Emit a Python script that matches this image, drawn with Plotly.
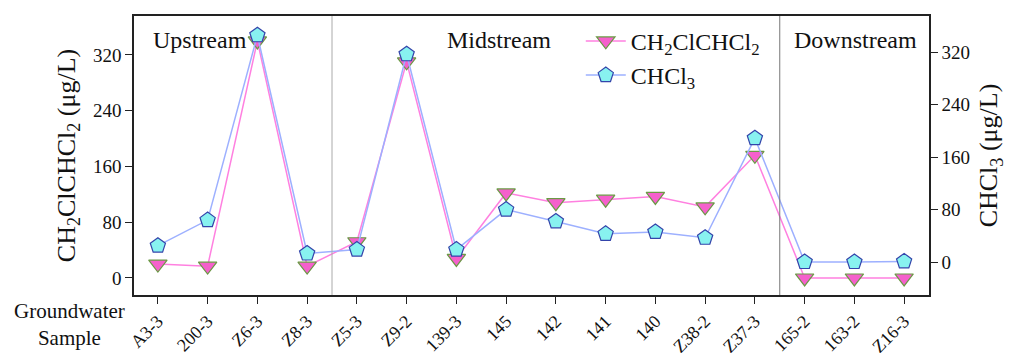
import plotly.graph_objects as go

samples = ["A3-3", "200-3", "Z6-3", "Z8-3", "Z5-3", "Z9-2", "139-3", "145", "142",
           "141", "140", "Z38-2", "Z37-3", "165-2", "163-2", "Z16-3"]
ch2clchcl2 = [20, 17, 340, 17, 52, 310, 28, 122, 108, 113, 117, 102, 176, 0, 0, 0]
chcl3 = [25, 64, 346, 13, 19, 317, 19, 80, 62, 43, 46, 37, 189, 0, 0, 1]
zones = ["Upstream", "Midstream", "Downstream"]
zone_bounds = [3.5, 12.5]
yticks = [0, 80, 160, 240, 320]

FONT = "Liberation Serif"

fig = go.Figure()
fig.add_trace(go.Scatter(
    x=samples, y=ch2clchcl2, name="CH<sub>2</sub>ClCHCl<sub>2</sub>",
    mode="lines+markers", yaxis="y",
    line=dict(color="#ff80e0", width=1.5),
    marker=dict(symbol="triangle-down", size=16, color="#f560cc",
                line=dict(color="#6b9a45", width=1.2))))
fig.add_trace(go.Scatter(
    x=samples, y=chcl3, name="CHCl<sub>3</sub>",
    mode="lines+markers", yaxis="y2",
    line=dict(color="#9db0ff", width=1.5),
    marker=dict(symbol="pentagon", size=16, color="#88f2f0",
                line=dict(color="#3344aa", width=1.2))))

for xb, col in zip(zone_bounds, ["#aaaaaa", "#777777"]):
    fig.add_shape(type="line", xref="x", yref="paper", x0=xb, x1=xb, y0=0, y1=1,
                  line=dict(color=col, width=1))

zone_x = [0.083, 0.459, 0.907]
for name, zx in zip(zones, zone_x):
    fig.add_annotation(text=name, x=zx, y=0.914, xref="paper", yref="paper",
                       xanchor="center", yanchor="middle",
                       showarrow=False, font=dict(size=24, color="#111"))

fig.add_annotation(text="Groundwater<br>Sample", x=-0.081, y=-0.105, xref="paper", yref="paper",
                   xanchor="center", yanchor="middle",
                   showarrow=False, align="center", font=dict(size=21, color="#111"))

fig.update_layout(
    width=1016, height=353,
    margin=dict(l=134, r=87, t=16, b=58),
    paper_bgcolor="white", plot_bgcolor="white",
    font=dict(family=FONT, size=18, color="#111"),
    showlegend=True,
    legend=dict(x=0.562, y=0.99, xanchor="left", yanchor="top",
                bgcolor="rgba(0,0,0,0)", font=dict(size=24), tracegroupgap=0,
                itemwidth=40),
    xaxis=dict(type="category", range=[-0.48, 15.5], showline=True, mirror=True,
               linecolor="#222", linewidth=1.5, ticks="outside", ticklen=7,
               tickcolor="#222", tickangle=-45, showgrid=False, automargin=False,
               tickfont=dict(size=18)),
    yaxis=dict(range=[-24.4, 375.8], tickvals=yticks, showline=True, linecolor="#222",
               linewidth=1.5, ticks="outside", ticklen=7, tickcolor="#222",
               showgrid=False, zeroline=False, tickfont=dict(size=19), automargin=False,
               title=dict(text="CH<sub>2</sub>ClCHCl<sub>2</sub> (μg/L)",
                          font=dict(size=26), standoff=10)),
    yaxis2=dict(range=[-50.3, 375.4], tickvals=yticks, overlaying="y", side="right",
                showline=True, linecolor="#222", linewidth=1.5, ticks="outside",
                ticklen=7, tickcolor="#222", showgrid=False, zeroline=False,
                tickfont=dict(size=19), automargin=False,
                title=dict(text="CHCl<sub>3</sub> (μg/L)", font=dict(size=26), standoff=10)),
)

fig.write_html("out.html")
